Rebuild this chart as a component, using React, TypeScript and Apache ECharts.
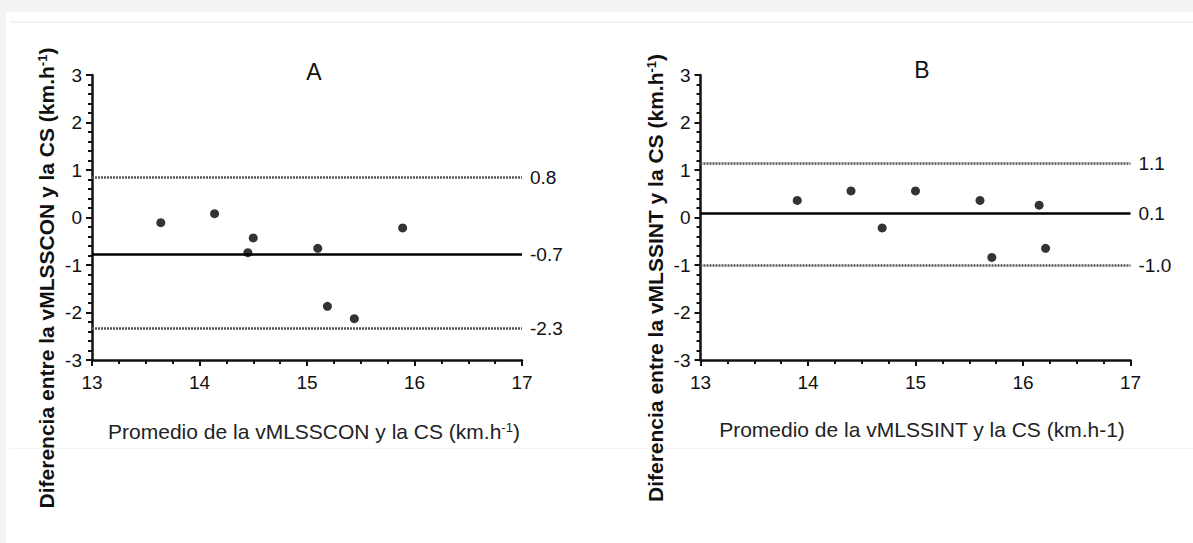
import React, { useEffect, useRef } from "react";
import * as echarts from "echarts";

// ---- data ----
const aMean = [13.64, 14.14, 14.45, 14.5, 15.1, 15.19, 15.44, 15.89];
const aDiff = [-0.11, 0.08, -0.74, -0.43, -0.65, -1.87, -2.13, -0.22];
const bMean = [13.9, 14.4, 14.69, 15.0, 15.6, 15.71, 16.15, 16.21];
const bDiff = [0.36, 0.56, -0.22, 0.56, 0.36, -0.84, 0.26, -0.65];
const aLimits = [0.84, -0.77, -2.33];
const aLimitLabels = ["0.8", "-0.7", "-2.3"];
const bLimits = [1.14, 0.08, -1.01];
const bLimitLabels = ["1.1", "0.1", "-1.0"];
const panelTitles = ["A", "B"];
const xTitles = ["Promedio de la vMLSSCON y la CS (km.h", "Promedio de la vMLSSINT y la CS (km.h-1)"];
const yTitles = ["Diferencia entre la vMLSSCON y la CS (km.h", "Diferencia entre la vMLSSINT y la CS (km.h"];

const FONT = "Arial, 'Liberation Sans', Helvetica, sans-serif";

export default function App() {
  const ref = useRef<HTMLDivElement>(null);
  useEffect(() => {
    if (!ref.current) return;
    const chart = echarts.init(ref.current, undefined, { renderer: "svg" });

    const xAxisBase = (gridIndex: number) => ({
      type: "value",
      gridIndex,
      min: 13,
      max: 17,
      interval: 1,
      axisLine: { show: true, onZero: false, lineStyle: { color: "#111", width: 2.5 } },
      axisTick: { show: true, inside: false, length: 6, lineStyle: { color: "#111", width: 2 } },
      minorTick: { show: true, splitNumber: 4, length: 4, lineStyle: { color: "#111", width: 2 } },
      splitLine: { show: false },
      axisLabel: { fontSize: 19, color: "#111", fontFamily: FONT, margin: 13 },
    });
    const yAxisBase = (gridIndex: number) => ({
      type: "value",
      gridIndex,
      min: -3,
      max: 3,
      interval: 1,
      axisLine: { show: true, onZero: false, lineStyle: { color: "#111", width: 2.5 } },
      axisTick: { show: true, inside: false, length: 6, lineStyle: { color: "#111", width: 2 } },
      minorTick: { show: true, splitNumber: 5, length: 4, lineStyle: { color: "#111", width: 2 } },
      splitLine: { show: false },
      axisLabel: { fontSize: 19, color: "#111", fontFamily: FONT, margin: 10 },
    });

    const limitLines = (vals: number[], labels: string[]) =>
      vals.map((v, i) => ({
        yAxis: v,
        name: labels[i],
        lineStyle:
          i === 1
            ? { color: "#000", width: 2.5, type: "solid" }
            : { color: "#555", width: 2.5, type: [2, 1] },
        label: {
          show: true,
          position: "end",
          distance: 8,
          formatter: labels[i],
          fontSize: 19,
          color: "#111",
          fontFamily: FONT,
        },
      }));

    const scatter = (xs: number[], ys: number[], idx: number, vals: number[], labels: string[]) => ({
      type: "scatter",
      xAxisIndex: idx,
      yAxisIndex: idx,
      symbol: "circle",
      symbolSize: 9,
      itemStyle: { color: "#000" },
      data: xs.map((x, i) => [x, ys[i]]),
      markLine: {
        silent: true,
        symbol: ["none", "none"],
        animation: false,
        data: limitLines(vals, labels),
      },
      z: 5,
    });

    const richY = {
      b: { fontSize: 21, fontWeight: "bold", fontFamily: FONT, fill: "#111", color: "#111" },
      s: { fontSize: 13, fontWeight: "bold", fontFamily: FONT, fill: "#111", color: "#111", verticalAlign: "top" },
    };
    const richX = {
      r: { fontSize: 21, fontFamily: FONT, fill: "#222", color: "#222" },
      s: { fontSize: 13, fontFamily: FONT, fill: "#222", color: "#222", verticalAlign: "top" },
    };

    chart.setOption({
      animation: false,
      backgroundColor: "#ffffff",
      grid: [
        { left: 92, top: 75, width: 430, height: 285, containLabel: false },
        { left: 700.5, top: 75, width: 430, height: 285, containLabel: false },
      ],
      xAxis: [xAxisBase(0), xAxisBase(1)],
      yAxis: [yAxisBase(0), yAxisBase(1)],
      series: [
        scatter(aMean, aDiff, 0, aLimits, aLimitLabels),
        scatter(bMean, bDiff, 1, bLimits, bLimitLabels),
      ],
      graphic: [
        { type: "rect", shape: { x: 0, y: 0, width: 1193, height: 12 }, style: { fill: "#f3f3f3" }, silent: true },
        { type: "rect", shape: { x: 0, y: 0, width: 6, height: 543 }, style: { fill: "#f3f3f3" }, silent: true },
        { type: "rect", shape: { x: 10, y: 21, width: 1183, height: 2 }, style: { fill: "#f1f1f8" }, silent: true },
        { type: "rect", shape: { x: 10, y: 448, width: 1183, height: 1 }, style: { fill: "#f3f3f6" }, silent: true },
        {
          type: "text",
          x: 314,
          y: 72,
          style: { text: panelTitles[0], fontSize: 23, fontFamily: FONT, fill: "#111", align: "center", verticalAlign: "middle" },
        },
        {
          type: "text",
          x: 922,
          y: 70,
          style: { text: panelTitles[1], fontSize: 23, fontFamily: FONT, fill: "#111", align: "center", verticalAlign: "middle" },
        },
        {
          type: "text",
          x: 46,
          y: 278,
          rotation: Math.PI / 2,
          style: {
            text: "{b|" + yTitles[0] + "}{s|-1}{b|)}",
            rich: richY,
            align: "center",
            verticalAlign: "middle",
          },
        },
        {
          type: "text",
          x: 655,
          y: 278,
          rotation: Math.PI / 2,
          style: {
            text: "{b|" + yTitles[1] + "}{s|-1}{b|)}",
            rich: richY,
            align: "center",
            verticalAlign: "middle",
          },
        },
        {
          type: "text",
          x: 314,
          y: 431,
          style: {
            text: "{r|" + xTitles[0] + "}{s|-1}{r|)}",
            rich: richX,
            align: "center",
            verticalAlign: "middle",
          },
        },
        {
          type: "text",
          x: 922,
          y: 429,
          style: {
            text: "{r|" + xTitles[1] + "}",
            rich: richX,
            align: "center",
            verticalAlign: "middle",
          },
        },
      ],
    });
    return () => chart.dispose();
  }, []);

  return (
    <div
      ref={ref}
      style={{ position: "fixed", left: 0, top: 0, width: 1193, height: 543, background: "#fff" }}
    />
  );
}
